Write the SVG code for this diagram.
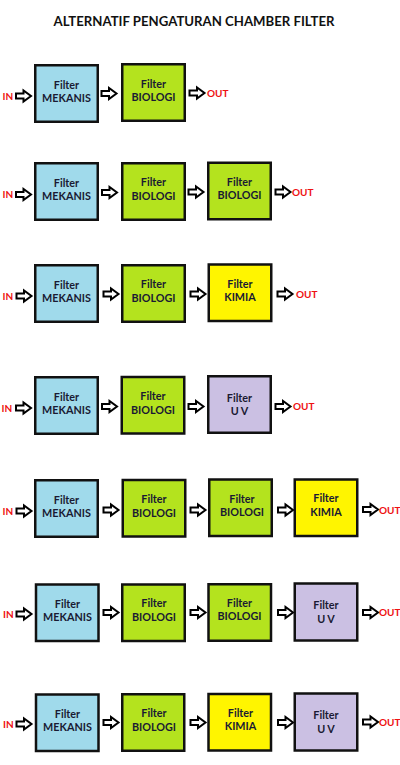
<svg xmlns="http://www.w3.org/2000/svg" xmlns:xlink="http://www.w3.org/1999/xlink" width="400" height="765" viewBox="0 0 400 765">
<style>
.bx{stroke:#111;stroke-width:2.5}
.mek{fill:#A0DAEB}
.bio{fill:#B4E31E}
.kim{fill:#FFF500}
.uv{fill:#CBC0E3}
.lb{font-family:Lato,"Liberation Sans",sans-serif;font-weight:bold;font-size:10.8px;fill:#1a1a33;text-anchor:middle}
.io{font-family:Lato,"Liberation Sans",sans-serif;font-weight:bold;font-size:10px;fill:#EE1111}
.ttl{font-family:Lato,"Liberation Sans",sans-serif;font-weight:bold;font-size:13.5px;fill:#111;text-anchor:middle}
.ar{fill:#fff;stroke:#000;stroke-width:2;stroke-linejoin:miter}
</style>
<defs>
<path id="arr" class="ar" d="M0.5,-2.5 H8 V-5.5 L15.5,0 L8,5.5 V2.5 H0.5 Z"/>
</defs>
<rect width="400" height="765" fill="#fff"/>
<text class="ttl" x="194" y="25.5" textLength="281" lengthAdjust="spacingAndGlyphs">ALTERNATIF PENGATURAN CHAMBER FILTER</text>

<!-- Row 1 -->
<g id="r1-mekanis"><rect class="bx mek" x="35.25" y="65.25" width="62.5" height="56.5"/><text class="lb" x="66.5" y="88.5">Filter</text><text class="lb" x="66.5" y="102">MEKANIS</text></g>
<g id="r1-biologi"><rect class="bx bio" x="122.25" y="64.25" width="62.5" height="56.5"/><text class="lb" x="153.5" y="87.5">Filter</text><text class="lb" x="153.5" y="101">BIOLOGI</text></g>

<!-- Row 2 -->
<g id="r2-mekanis"><rect class="bx mek" x="35.25" y="163.25" width="62.5" height="56.5"/><text class="lb" x="66.5" y="186.5">Filter</text><text class="lb" x="66.5" y="200">MEKANIS</text></g>
<g id="r2-biologi1"><rect class="bx bio" x="122.25" y="163.25" width="62.5" height="56.5"/><text class="lb" x="153.5" y="186">Filter</text><text class="lb" x="153.5" y="199.5">BIOLOGI</text></g>
<g id="r2-biologi2"><rect class="bx bio" x="208.25" y="162.75" width="62.5" height="56.5"/><text class="lb" x="239.5" y="185.5">Filter</text><text class="lb" x="239.5" y="199">BIOLOGI</text></g>

<!-- Row 3 -->
<g id="r3-mekanis"><rect class="bx mek" x="35.25" y="265.25" width="62.5" height="56.5"/><text class="lb" x="66.5" y="288.5">Filter</text><text class="lb" x="66.5" y="302">MEKANIS</text></g>
<g id="r3-biologi"><rect class="bx bio" x="122.25" y="265.25" width="62.5" height="56.5"/><text class="lb" x="153.5" y="288">Filter</text><text class="lb" x="153.5" y="301.5">BIOLOGI</text></g>
<g id="r3-kimia"><rect class="bx kim" x="208.75" y="264.5" width="62.5" height="56.5"/><text class="lb" x="240" y="287.5">Filter</text><text class="lb" x="240" y="301">KIMIA</text></g>

<!-- Row 4 -->
<g id="r4-mekanis"><rect class="bx mek" x="35.25" y="377.25" width="62.5" height="56.5"/><text class="lb" x="66.5" y="400.5">Filter</text><text class="lb" x="66.5" y="414">MEKANIS</text></g>
<g id="r4-biologi"><rect class="bx bio" x="121.75" y="377" width="62.5" height="56.5"/><text class="lb" x="153" y="400">Filter</text><text class="lb" x="153" y="413.5">BIOLOGI</text></g>
<g id="r4-uv"><rect class="bx uv" x="208.25" y="376.25" width="62.5" height="56.5"/><text class="lb" x="239.5" y="401.5">Filter</text><text class="lb" x="239.5" y="415">U V</text></g>

<!-- Row 5 -->
<g id="r5-mekanis"><rect class="bx mek" x="35.25" y="480.25" width="62.5" height="56.5"/><text class="lb" x="66.5" y="503.5">Filter</text><text class="lb" x="66.5" y="517">MEKANIS</text></g>
<g id="r5-biologi1"><rect class="bx bio" x="122.75" y="480" width="62.5" height="56.5"/><text class="lb" x="154" y="503">Filter</text><text class="lb" x="154" y="516.5">BIOLOGI</text></g>
<g id="r5-biologi2"><rect class="bx bio" x="209.25" y="479.5" width="62.5" height="56.5"/><text class="lb" x="242" y="502.5">Filter</text><text class="lb" x="242" y="516">BIOLOGI</text></g>
<g id="r5-kimia"><rect class="bx kim" x="294.75" y="479.5" width="62.5" height="56.5"/><text class="lb" x="326" y="502">Filter</text><text class="lb" x="326" y="515.5">KIMIA</text></g>

<!-- Row 6 -->
<g id="r6-mekanis"><rect class="bx mek" x="36" y="584.5" width="62.5" height="56.5"/><text class="lb" x="67.5" y="607.5">Filter</text><text class="lb" x="67.5" y="621">MEKANIS</text></g>
<g id="r6-biologi1"><rect class="bx bio" x="122.25" y="584.5" width="62.5" height="56.5"/><text class="lb" x="154" y="607">Filter</text><text class="lb" x="154" y="620.5">BIOLOGI</text></g>
<g id="r6-biologi2"><rect class="bx bio" x="208.5" y="584.25" width="62.5" height="56.5"/><text class="lb" x="239.5" y="606.5">Filter</text><text class="lb" x="239.5" y="620">BIOLOGI</text></g>
<g id="r6-uv"><rect class="bx uv" x="294.75" y="583.5" width="62.5" height="57"/><text class="lb" x="326" y="609">Filter</text><text class="lb" x="326" y="622.5">U V</text></g>

<!-- Row 7 -->
<g id="r7-mekanis"><rect class="bx mek" x="36" y="694.5" width="62.5" height="56.5"/><text class="lb" x="67.5" y="717.5">Filter</text><text class="lb" x="67.5" y="731">MEKANIS</text></g>
<g id="r7-biologi"><rect class="bx bio" x="122.25" y="694.25" width="62" height="56.5"/><text class="lb" x="154" y="717">Filter</text><text class="lb" x="154" y="730.5">BIOLOGI</text></g>
<g id="r7-kimia"><rect class="bx kim" x="208.5" y="694" width="62.5" height="56.5"/><text class="lb" x="240.5" y="716.5">Filter</text><text class="lb" x="240.5" y="730">KIMIA</text></g>
<g id="r7-uv"><rect class="bx uv" x="294.75" y="693.5" width="62.5" height="57"/><text class="lb" x="326" y="719">Filter</text><text class="lb" x="326" y="732.5">U V</text></g>

<g id="connectors">
<!-- row 1 -->
<text class="io" x="2.5" y="99.5">IN</text>
<use xlink:href="#arr" x="15.5" y="96"/>
<use xlink:href="#arr" x="101" y="93.5"/>
<use xlink:href="#arr" x="189" y="93"/>
<text class="io" x="207" y="97">OUT</text>
<!-- row 2 -->
<text class="io" x="2.5" y="198">IN</text>
<use xlink:href="#arr" x="15.5" y="194.5"/>
<use xlink:href="#arr" x="101.5" y="192.5"/>
<use xlink:href="#arr" x="188" y="192"/>
<use xlink:href="#arr" x="275" y="192"/>
<text class="io" x="292" y="195.5">OUT</text>
<!-- row 3 -->
<text class="io" x="2.5" y="299.5">IN</text>
<use xlink:href="#arr" x="16" y="296"/>
<use xlink:href="#arr" x="103" y="294"/>
<use xlink:href="#arr" x="190" y="294"/>
<use xlink:href="#arr" x="277" y="294"/>
<text class="io" x="296" y="297.5">OUT</text>
<!-- row 4 -->
<text class="io" x="1.5" y="411.5">IN</text>
<use xlink:href="#arr" x="15.5" y="408"/>
<use xlink:href="#arr" x="101.5" y="406.5"/>
<use xlink:href="#arr" x="188" y="406.5"/>
<use xlink:href="#arr" x="275" y="406.5"/>
<text class="io" x="293" y="410">OUT</text>
<!-- row 5 -->
<text class="io" x="2.5" y="514.5">IN</text>
<use xlink:href="#arr" x="16" y="511"/>
<use xlink:href="#arr" x="103" y="510"/>
<use xlink:href="#arr" x="190" y="510"/>
<use xlink:href="#arr" x="277.5" y="510"/>
<use xlink:href="#arr" x="362.5" y="509.5"/>
<text class="io" x="379" y="513.5">OUT</text>
<!-- row 6 -->
<text class="io" x="3" y="617.5">IN</text>
<use xlink:href="#arr" x="16" y="614"/>
<use xlink:href="#arr" x="103" y="612.5"/>
<use xlink:href="#arr" x="190" y="612.5"/>
<use xlink:href="#arr" x="277.5" y="612.5"/>
<use xlink:href="#arr" x="362.5" y="612.5"/>
<text class="io" x="379" y="616">OUT</text>
<!-- row 7 -->
<text class="io" x="3" y="727.5">IN</text>
<use xlink:href="#arr" x="16" y="724"/>
<use xlink:href="#arr" x="103" y="722.5"/>
<use xlink:href="#arr" x="190" y="722.5"/>
<use xlink:href="#arr" x="277.5" y="722.5"/>
<use xlink:href="#arr" x="362.5" y="722"/>
<text class="io" x="379" y="725.5">OUT</text>
</g>
</svg>
